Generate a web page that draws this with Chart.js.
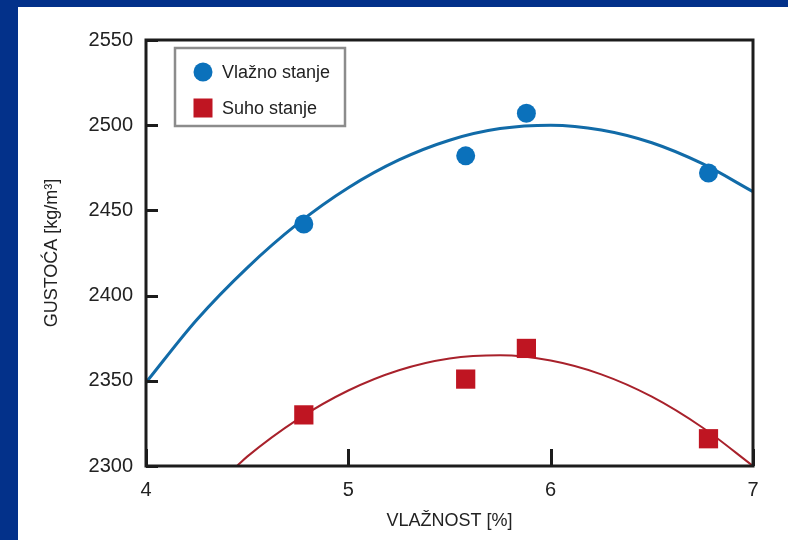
<!DOCTYPE html>
<html>
<head>
<meta charset="utf-8">
<script src="https://cdn.jsdelivr.net/npm/chart.js@4.4.1/dist/chart.umd.min.js"></script>
<style>
  html, body { margin: 0; padding: 0; background: #ffffff; }
  #wrap { width: 788px; height: 540px; }
</style>
</head>
<body>
<div id="wrap"><canvas id="c" width="788" height="540"></canvas></div>
<script>
// Measured samples: moisture content [%] and density [kg/m³]
const moisture   = [4.78, 5.58, 5.88, 6.78];
const wetDensity = [2442, 2482, 2507, 2472];
const dryDensity = [2330, 2351, 2369, 2316];

// Fitted trend curves (sampled along the moisture axis)
const wetTrendX = [4.00, 4.25, 4.50, 4.75, 5.00, 5.25, 5.50, 5.75, 6.00, 6.25, 6.50, 6.75, 7.00];
const wetTrendY = [2349, 2385.7, 2416.3, 2442.2, 2463.3, 2479.6, 2491.2, 2498, 2500, 2497.2, 2489.7, 2477.4, 2461];
const dryTrendX = [4.45, 4.50, 4.75, 5.00, 5.25, 5.50, 5.75, 6.00, 6.25, 6.50, 6.75, 7.00];
const dryTrendY = [2300, 2305.5, 2327.4, 2344.3, 2356.2, 2363.1, 2365, 2361.9, 2353.8, 2340.7, 2322.6, 2300];

// Axis ticks
const xTicks = [4, 5, 6, 7];
const yTicks = [2300, 2350, 2400, 2450, 2500, 2550];

const seriesNames = ['Vlažno stanje', 'Suho stanje'];
const BLUE = '#0b71bb', BLUE_LINE = '#116ba8';
const RED = '#bf1522', RED_LINE = '#a8212b';
const FONT = "'Liberation Sans', Arial, Helvetica, sans-serif";

const pairs = (xs, ys) => xs.map((x, i) => ({ x: x, y: ys[i] }));

// Dark blue frame around the white page
const pageBackground = {
  id: 'pageBackground',
  beforeDraw(chart) {
    const ctx = chart.ctx;
    ctx.save();
    ctx.fillStyle = '#03318a';
    ctx.fillRect(0, 0, chart.width, chart.height);
    ctx.fillStyle = '#ffffff';
    ctx.fillRect(18, 7, chart.width - 18, chart.height - 7);
    ctx.restore();
  }
};

// Plot border with inward tick marks
const plotFrame = {
  id: 'plotFrame',
  afterDatasetsDraw(chart) {
    const { ctx, chartArea: a, scales } = chart;
    ctx.save();
    ctx.strokeStyle = '#1c1c1c';
    ctx.lineWidth = 3;
    ctx.beginPath();
    yTicks.forEach(v => {
      const py = Math.round(scales.y.getPixelForValue(v)) + 0.5;
      ctx.moveTo(a.left, py);
      ctx.lineTo(a.left + 12, py);
    });
    xTicks.forEach(v => {
      const px = Math.round(scales.x.getPixelForValue(v)) + 0.5;
      ctx.moveTo(px, a.bottom);
      ctx.lineTo(px, a.bottom - 17);
    });
    ctx.stroke();
    ctx.strokeRect(a.left, a.top, a.right - a.left, a.bottom - a.top);
    ctx.restore();
  }
};

// Boxed legend inside the plot, top left
const innerLegend = {
  id: 'innerLegend',
  afterDraw(chart) {
    const ctx = chart.ctx;
    const a = chart.chartArea;
    const bx = a.left + 29, by = a.top + 8, bw = 170, bh = 78;
    ctx.save();
    ctx.fillStyle = '#ffffff';
    ctx.fillRect(bx, by, bw, bh);
    ctx.strokeStyle = '#8c8c8c';
    ctx.lineWidth = 2.5;
    ctx.strokeRect(bx, by, bw, bh);
    const items = chart.data.datasets.filter(d => d.inLegend);
    items.forEach((d, i) => {
      const cx = bx + 28, cy = by + 24 + i * 36;
      ctx.fillStyle = d.backgroundColor;
      if (d.pointStyle === 'circle') {
        ctx.beginPath();
        ctx.arc(cx, cy, 9.5, 0, Math.PI * 2);
        ctx.fill();
      } else {
        ctx.fillRect(cx - 9.5, cy - 9.5, 19, 19);
      }
      ctx.fillStyle = '#222222';
      ctx.font = '18px ' + FONT;
      ctx.textBaseline = 'middle';
      ctx.textAlign = 'left';
      ctx.fillText(d.label, cx + 19, cy + 1);
    });
    ctx.restore();
  }
};

new Chart(document.getElementById('c'), {
  type: 'scatter',
  data: {
    datasets: [
      {
        label: seriesNames[0], inLegend: true, order: 0,
        data: pairs(moisture, wetDensity),
        pointStyle: 'circle', pointRadius: 9.5, pointHoverRadius: 9.5,
        backgroundColor: BLUE, borderColor: BLUE, borderWidth: 0
      },
      {
        label: seriesNames[1], inLegend: true, order: 0,
        data: pairs(moisture, dryDensity),
        pointStyle: 'rect', pointRadius: 13.6, pointHoverRadius: 13.6,
        backgroundColor: RED, borderColor: RED, borderWidth: 0
      },
      {
        label: seriesNames[0] + ' trend', order: 1,
        data: pairs(wetTrendX, wetTrendY),
        showLine: true, pointRadius: 0, borderColor: BLUE_LINE, borderWidth: 3,
        cubicInterpolationMode: 'monotone', fill: false
      },
      {
        label: seriesNames[1] + ' trend', order: 1,
        data: pairs(dryTrendX, dryTrendY),
        showLine: true, pointRadius: 0, borderColor: RED_LINE, borderWidth: 2,
        cubicInterpolationMode: 'monotone', fill: false
      }
    ]
  },
  options: {
    responsive: false,
    animation: false,
    devicePixelRatio: 1,
    layout: { padding: { left: 0, right: 35, top: 40, bottom: 0 } },
    plugins: { legend: { display: false }, tooltip: { enabled: false } },
    scales: {
      x: {
        type: 'linear', min: 4, max: 7,
        afterBuildTicks: s => { s.ticks = xTicks.map(v => ({ value: v })); },
        afterFit: s => { s.height = 74; },
        grid: { display: false, drawTicks: false },
        border: { display: false },
        ticks: {
          padding: 12, color: '#222222', font: { family: FONT, size: 20 },
          callback: v => String(v)
        },
        title: {
          display: true, text: 'VLAŽNOST [%]', color: '#222222',
          font: { family: FONT, size: 18 }, padding: { top: 0, bottom: 8 }
        }
      },
      y: {
        type: 'linear', min: 2300, max: 2550,
        afterBuildTicks: s => { s.ticks = yTicks.map(v => ({ value: v })); },
        afterFit: s => { s.width = 146; },
        grid: { display: false, drawTicks: false },
        border: { display: false },
        ticks: {
          padding: 13, color: '#222222', font: { family: FONT, size: 20 },
          callback: v => String(v)
        },
        title: {
          display: true, text: 'GUSTOĆA [kg/m³]', color: '#222222',
          font: { family: FONT, size: 18 }, padding: { top: 41, bottom: 0 }
        }
      }
    }
  },
  plugins: [pageBackground, plotFrame, innerLegend]
});
</script>
</body>
</html>
